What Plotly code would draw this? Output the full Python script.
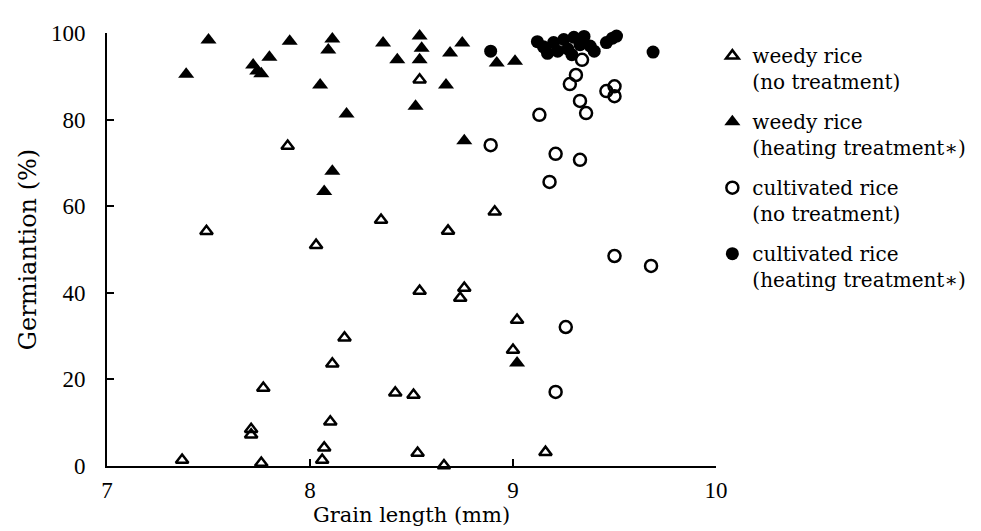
import plotly.graph_objects as go

# weedy rice, no treatment (open triangles)
weedy_nt_x = [7.49, 7.89, 8.03, 8.54, 8.35, 8.68, 8.91, 8.54, 8.76, 8.74, 9.02, 9.00, 8.17, 8.11,
              7.77, 8.42, 8.51, 7.71, 7.71, 8.10, 8.07, 8.06, 7.37, 7.76, 8.53, 8.66, 9.16]
weedy_nt_y = [54.2, 73.9, 51.0, 89.2, 56.8, 54.3, 58.7, 40.4, 41.1, 38.8, 33.7, 26.8, 29.6, 23.6,
              18.0, 16.9, 16.4, 8.5, 7.2, 10.2, 4.2, 1.4, 1.4, 0.7, 3.0, 0.1, 3.2]

# weedy rice, heating treatment (filled triangles)
weedy_ht_x = [7.39, 7.50, 7.72, 7.74, 7.76, 7.80, 7.90, 8.05, 8.09, 8.11, 8.18, 8.11, 8.07, 8.36,
              8.43, 8.54, 8.55, 8.54, 8.52, 8.69, 8.67, 8.75, 8.76, 8.92, 9.01, 9.02]
weedy_ht_y = [90.5, 98.4, 92.6, 91.2, 90.6, 94.4, 98.1, 88.0, 96.1, 98.6, 81.3, 68.1, 63.4, 97.7,
              93.8, 99.3, 96.5, 93.8, 83.1, 95.4, 88.0, 97.7, 75.1, 93.1, 93.5, 23.8]

# cultivated rice, no treatment (open circles)
cult_nt_x = [8.89, 9.13, 9.18, 9.21, 9.21, 9.26, 9.28, 9.31, 9.34, 9.33, 9.36, 9.33, 9.46, 9.50,
             9.50, 9.50, 9.68]
cult_nt_y = [74.1, 81.1, 65.6, 72.1, 17.1, 32.1, 88.2, 90.3, 93.8, 84.3, 81.5, 70.7, 86.6, 87.7,
             85.4, 48.5, 46.2]

# cultivated rice, heating treatment (filled circles)
cult_ht_x = [8.89, 9.12, 9.15, 9.17, 9.20, 9.22, 9.25, 9.27, 9.30, 9.33, 9.35, 9.29, 9.38, 9.40,
             9.46, 9.49, 9.51, 9.69]
cult_ht_y = [95.8, 98.0, 96.8, 95.3, 97.8, 95.8, 98.5, 96.3, 99.0, 97.3, 99.2, 95.0, 97.0, 95.8,
             97.8, 98.8, 99.3, 95.6]

series_names = ["weedy rice<br>(no treatment)", "weedy rice<br>(heating treatment∗)",
                "cultivated rice<br>(no treatment)", "cultivated rice<br>(heating treatment∗)"]

x_ticks = [7, 8, 9, 10]
y_ticks = [0, 20, 40, 60, 80, 100]

SERIF = "Liberation Serif, serif"
WIDE_SERIF = "DejaVu Serif, serif"

fig = go.Figure()
fig.add_trace(go.Scatter(
    x=weedy_nt_x, y=weedy_nt_y, mode="markers", name=series_names[0], legendgroup="a",
    cliponaxis=False,
    marker=dict(symbol="triangle-up-open", size=11, color="black", line=dict(width=2.5, color="black"))))
fig.add_trace(go.Scatter(
    x=weedy_ht_x, y=weedy_ht_y, mode="markers", name=series_names[1], legendgroup="b",
    cliponaxis=False,
    marker=dict(symbol="triangle-up", size=14, color="black", line=dict(width=0))))
fig.add_trace(go.Scatter(
    x=cult_nt_x, y=cult_nt_y, mode="markers", name=series_names[2], legendgroup="c",
    cliponaxis=False,
    marker=dict(symbol="circle-open", size=12, color="black", line=dict(width=2.5, color="black"))))
fig.add_trace(go.Scatter(
    x=cult_ht_x, y=cult_ht_y, mode="markers", name=series_names[3], legendgroup="d",
    cliponaxis=False,
    marker=dict(symbol="circle", size=13, color="black", line=dict(width=0))))

axis_common = dict(
    showline=True, linecolor="black", linewidth=2, showgrid=False, zeroline=False,
    ticks="inside", ticklen=7, tickwidth=2, tickcolor="black",
    tickfont=dict(family=SERIF, size=23, color="black"),
)

fig.update_layout(
    width=981, height=531,
    margin=dict(l=99, r=273, t=25, b=73, autoexpand=False),
    paper_bgcolor="white", plot_bgcolor="white",
    font=dict(family=SERIF, color="black"),
    xaxis=dict(range=[7, 10], tickvals=x_ticks, ticktext=[str(v) for v in x_ticks],
               ticklabelstandoff=2,
               title=dict(text="Grain length (mm)", font=dict(family=WIDE_SERIF, size=21), standoff=4),
               **axis_common),
    yaxis=dict(range=[0, 100], tickvals=y_ticks, ticktext=[str(v) for v in y_ticks],
               ticklabelstandoff=15,
               title=dict(text="Germiantion (%)", font=dict(family=WIDE_SERIF, size=24), standoff=8),
               **axis_common),
    legend=dict(xref="container", yref="container", x=0.718, y=0.947,
                xanchor="left", yanchor="top", valign="top",
                font=dict(family=WIDE_SERIF, size=20, color="black"),
                itemwidth=30, tracegroupgap=11, bgcolor="rgba(0,0,0,0)"),
    showlegend=True,
)

fig.write_html("out.html")
